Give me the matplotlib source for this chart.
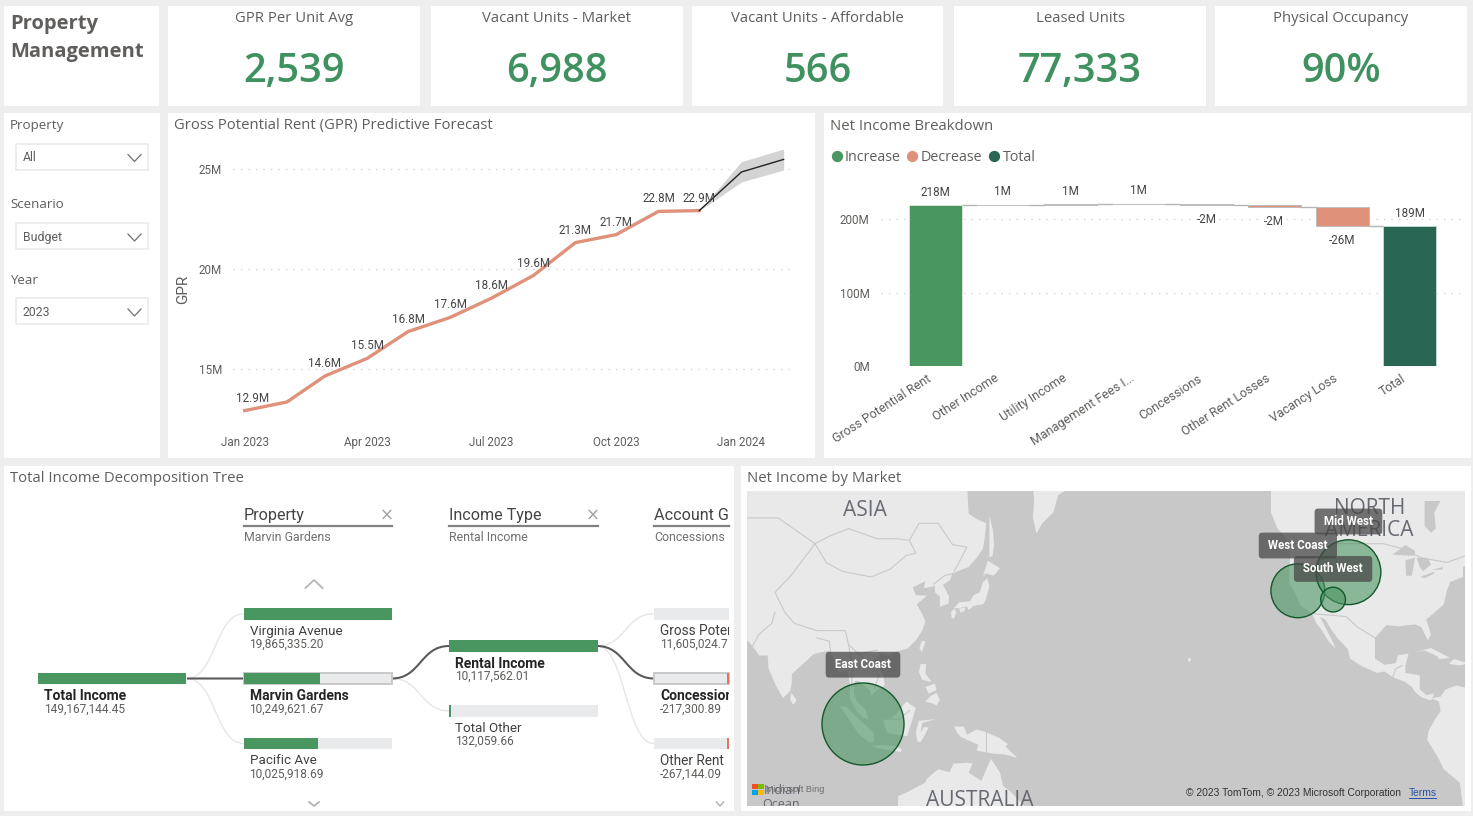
import numpy as np
import pandas as pd
import matplotlib
matplotlib.use('Agg')
import matplotlib.pyplot as plt
import matplotlib.dates as mdates
from matplotlib.patches import Rectangle, PathPatch
from matplotlib.path import Path
from matplotlib.transforms import ScaledTranslation

W, H = 1473, 816

# --- data ---
kpi_titles = ['GPR Per Unit Avg', 'Vacant Units - Market', 'Vacant Units - Affordable', 'Leased Units', 'Physical Occupancy']
kpi_values = ['2,539', '6,988', '566', '77,333', '90%']

slicer_titles = ['Property', 'Scenario', 'Year']
slicer_values = ['All', 'Budget', '2023']

months = pd.date_range('2023-01-01', periods=12, freq='MS')
tick_dates = pd.to_datetime(['2023-01-01', '2023-04-01', '2023-07-01', '2023-10-01', '2024-01-01'])
month_labels = ['Jan 2023', 'Apr 2023', 'Jul 2023', 'Oct 2023', 'Jan 2024']
gpr_actual = [12.92, 13.35, 14.65, 15.53, 16.87, 17.58, 18.53, 19.67, 21.32, 21.72, 22.88, 22.92]
gpr_labels = ['12.9M', '', '14.6M', '15.5M', '16.8M', '17.6M', '18.6M', '19.6M', '21.3M', '21.7M', '22.8M', '22.9M']
forecast_months = pd.to_datetime(['2023-12-01', '2024-01-01', '2024-02-01'])
gpr_forecast = [22.92, 24.85, 25.48]
forecast_upper = [22.92, 25.37, 26.0]
forecast_lower = [22.92, 24.35, 24.95]

wf_names = ['Gross Potential Rent', 'Other Income', 'Utility Income', 'Management Fees I...',
            'Concessions', 'Other Rent Losses', 'Vacancy Loss', 'Total']
wf_deltas = [218.3, 0.6, 0.5, 0.9, -2.1, -1.9, -26.5]
wf_labels = ['218M', '1M', '1M', '1M', '-2M', '-2M', '-26M', '189M']

prop_names = ['Virginia Avenue', 'Marvin Gardens', 'Pacific Ave']
prop_values = [19865335.20, 10249621.67, 10025918.69]
income_names = ['Rental Income', 'Total Other']
income_values = [10117562.01, 132059.66]
account_names = ['Gross Potential Rent', 'Concessions', 'Other Rent']
account_text = ['11,605,024.7', '-217,300.89', '-267,144.09']

market_names = ['East Coast', 'West Coast', 'Mid West', 'South West']
market_lon = [102.5, -121.6, -105.8, -110.6]
market_lat = [0.0, 38.4, 42.8, 36.2]
market_income = [88, 38, 55, 8]

# --- rough coastlines, lon/lat ---
land = [
    [(60, 60), (135, 60), (135.5, 54.8), (138, 53.8), (141, 53), (140.5, 50), (140, 48), (138, 46), (135.5, 44), (132, 43),
     (130.5, 42.5), (129.7, 41), (127.5, 39.8), (129.4, 37), (129.2, 35.2), (126.5, 34.4), (126.5, 37), (125, 38),
     (125, 39.6), (121.5, 39), (122, 40.7), (118, 39.2), (119, 37.3), (122.5, 37.2), (119.3, 35), (121, 32.5), (122, 30.5),
     (121, 28), (119, 25.3), (116.5, 23), (113.5, 22.2), (110.5, 21), (108, 21.6), (105.8, 19), (108.8, 15.5), (109.3, 12),
     (106.7, 10.4), (105, 8.7), (104.8, 10.3), (102.5, 12.2), (100.9, 13.4), (100, 13.3), (99.5, 10), (100.5, 7.2),
     (103.3, 4.5), (104.2, 1.4), (102.5, 2), (100.5, 4), (98.3, 8), (98.5, 12), (97.6, 16.5), (95, 15.9), (94.3, 18.5),
     (91.8, 22.3), (89, 21.8), (87, 21.3), (85, 19.5), (80.3, 15.5), (80.2, 12.5), (79.8, 10.3), (77.5, 8.1), (75.5, 11.5),
     (73, 17), (72.7, 21), (70, 20.9), (68, 23.6), (66.5, 25.2), (60, 25.3)],
    [(155.5, 60), (156, 57), (155.6, 54), (156.7, 51), (158.5, 53), (162, 55), (163.5, 58), (170, 60)],
    [(130.9, 34), (132.5, 35.5), (136, 35.8), (137, 37.3), (139, 38), (140, 40.5), (141.3, 41.4), (142, 39.5), (140.8, 36),
     (140, 35), (137, 34.6), (135.5, 33.5), (135, 34.5), (132.5, 34)],
    [(130, 33), (131, 33.9), (131.7, 33), (131, 31.3), (130.2, 31.3)],
    [(132.5, 33.9), (134.5, 34.2), (134.2, 33.3), (133, 32.8)],
    [(140, 42), (141.5, 45.4), (145.3, 43.7), (143.3, 42), (141, 42.5)],
    [(142, 54.4), (143, 52), (143.5, 49), (143, 46.5), (142, 46), (142, 50)],
    [(121, 25.2), (122, 25), (120.9, 22), (120.1, 23)],
    [(109, 20), (110.8, 20), (110, 18.3), (108.7, 18.7)],
    [(120.5, 18.5), (122.2, 18.4), (122, 15.5), (124, 13), (121, 13.7), (120, 16)],
    [(122, 7), (123.5, 8.6), (125.5, 9.7), (126.5, 7.5), (125.5, 5.8), (124, 6.5)],
    [(122, 11.5), (125, 12.5), (125.5, 10.5), (123, 9.5)],
    [(80, 9.7), (81.8, 7.5), (80.7, 6), (79.8, 7.5)],
    [(95.3, 5.6), (97.5, 5.2), (100.5, 2.2), (104, -1), (106, -3), (105.8, -5.8), (104.5, -5.8), (101, -3), (98.5, 1)],
    [(109, 1.5), (111, 1.8), (113, 3.2), (116, 7), (119, 5), (117.8, 1), (116.3, -3.8), (114, -3.5), (110.2, -2.8), (109, 0)],
    [(105.2, -6.8), (108.5, -6.6), (112.7, -6.9), (114.5, -7.8), (114.4, -8.7), (108, -7.8)],
    [(119.5, -5.5), (119, -2.5), (120, 1), (125, 1.5), (121, 0.3), (120.5, -2.8), (121.5, -1), (123, -1), (121.5, -4), (120.5, -5.6)],
    [(131, -0.8), (134, -0.8), (135, -3.3), (138, -1.7), (141, -2.6), (145, -4.3), (147.8, -6.3), (147, -7), (150.7, -10.5),
     (147, -9.5), (143, -9.2), (138, -8.3), (138.5, -6.5), (133, -4), (132, -2.8)],
    [(113.5, -22), (117, -20.5), (122, -18), (122.5, -16.8), (126, -14), (129.5, -14.9), (130.8, -12.3), (135, -12),
     (136.8, -12.2), (135.5, -15), (139.5, -17.5), (141.5, -13), (142.5, -10.8), (145.3, -15), (146.3, -19), (149, -21),
     (153, -25), (153, -40), (113, -40)],
    [(-130, 60), (-130, 55), (-128, 52), (-125, 50), (-123, 49), (-124.7, 48.4), (-124, 46), (-124.4, 43), (-124.3, 40.4),
     (-122.5, 37.8), (-120.6, 34.6), (-117.2, 32.6), (-115.8, 30), (-114, 28), (-112, 25), (-109.9, 23), (-110.5, 24.5),
     (-112.5, 28), (-114.7, 31.7), (-113, 31), (-110.9, 27.9), (-109, 25.7), (-106, 22.8), (-105.3, 20), (-102, 18),
     (-97, 15.8), (-94.5, 16.2), (-92, 14.5), (-88, 13), (-86, 11.5), (-85, 10), (-83, 8.3), (-80, 7.3), (-79, 9.5),
     (-81.5, 9), (-83.5, 10.8), (-83.5, 15), (-88, 15.8), (-88, 18), (-87, 21.5), (-90.3, 21), (-91, 18.7), (-94.5, 18.2),
     (-97.5, 20), (-97.5, 26), (-94, 29.5), (-90, 29.2), (-85, 29.7), (-83, 29), (-81, 25.2), (-80, 27), (-81.5, 31),
     (-76, 35), (-75, 38.5), (-74, 40.5), (-70, 41.7), (-70, 44), (-66, 45), (-60, 46), (-60, 60)],
    [(-80, 8), (-77.5, 7), (-77, 4), (-79, 1), (-80.7, -2), (-81.2, -5), (-78, -10), (-76, -14), (-71, -18), (-70, -25),
     (-60, -30), (-60, 10), (-68, 11), (-72, 12), (-75.5, 10.7), (-77, 8.5)],
    [(-85, 21.9), (-80, 23.1), (-75, 20.7), (-74.2, 20.2), (-77.5, 19.9), (-78, 20.7), (-82, 22.4)],
    [(-74.4, 18.5), (-72.8, 19.9), (-68.4, 18.6), (-71, 18)],
    [(-156, 20), (-155.2, 20.2), (-155, 19.5), (-155.8, 19)],
]
water = [
    [(-92, 46.7), (-88, 48.7), (-85, 47.5), (-85, 46.5), (-88, 46.5)],
    [(-87.8, 42), (-88, 45.5), (-85, 46), (-86, 42)],
    [(-84.5, 46), (-81, 46), (-80, 44.5), (-82.5, 43), (-83.5, 44)],
    [(-83.4, 41.7), (-79, 42.9), (-79, 42.5), (-82, 41.4)],
    [(-79.7, 43.3), (-76.3, 44), (-76.3, 43.4)],
    [(-82, 57), (-82, 52.5), (-80, 51.2), (-78.5, 52), (-79, 55), (-77, 57)],
]
borders = [
    [(131, 43), (135, 48.3), (130.5, 48.8), (126, 53), (120, 53), (117, 49.7), (113, 50), (107, 50), (98, 52), (92, 50.5),
     (87.5, 49), (80, 42), (75, 38), (78, 33), (81, 30), (88, 28), (97, 28), (98, 24), (101, 21.5), (107, 22.5)],
    [(87.5, 49), (91, 45), (96, 43), (105, 41.7), (111, 43.5), (116, 46.5), (119, 47), (117, 49.7)],
    [(66, 54), (76, 54), (87.5, 49)],
    [(75, 33), (74, 30), (70, 27), (68, 23.7)],
    [(98, 24), (99, 18), (99, 11)],
    [(101, 21.5), (105, 18), (107.5, 15), (106, 11)],
    [(88, 26), (92, 25), (92.5, 21)],
    [(124.5, 40), (128, 42), (130.5, 42.5)],
    [(-123, 49), (-95, 49), (-89, 48), (-83, 46), (-75, 45), (-67, 47)],
    [(-117, 32.6), (-106.5, 31.8), (-103, 29), (-97.5, 26)],
    [(-92, 14.5), (-91, 17), (-89, 18)],
    [(141, -2.6), (141, -9)],
    [(109.5, 1.5), (114, 1.5), (117, 4.2)],
]

# --- fonts and colours ---
plt.rcParams['font.family'] = ['Roboto', 'DejaVu Sans']
HEAD = ['Open Sans', 'DejaVu Sans']
GREY = '#605E5C'
LIGHT_TRACK = '#E9EAEC'
GREEN = '#4A9660'
SALMON = '#DF917A'
DARK_GREEN = '#2A6654'

fig = plt.figure(figsize=(W / 100, H / 100), dpi=100, facecolor='#EEEEEE')


def add_ax(x0, y0, x1, y1, **kw):
    return fig.add_axes([x0 / W, 1 - y1 / H, (x1 - x0) / W, (y1 - y0) / H], **kw)


# page layer in pixel coordinates
page = add_ax(0, 0, W, H, zorder=0)
page.set_xlim(0, W)
page.set_ylim(H, 0)
page.axis('off')


def box(x0, y0, x1, y1, fc='white', ec='none', lw=0, **kw):
    page.add_patch(Rectangle((x0, y0), x1 - x0, y1 - y0, fc=fc, ec=ec, lw=lw, **kw))


def chevron(x, y, w, h, color='#8A8A8A', lw=1.0):
    page.plot([x - w / 2, x, x + w / 2], [y, y + h, y], color=color, lw=lw)


# panels
panels = [(4, 6, 159, 106), (168, 6, 420, 106), (431, 6, 683, 106), (692, 6, 943, 106), (954, 6, 1206, 106),
          (1215, 6, 1467, 106), (4, 113, 160, 458), (168, 113, 815, 458), (824, 113, 1471, 458),
          (4, 466, 734, 811), (741, 466, 1471, 811)]
for p in panels:
    box(*p)

# title card
page.text(10, 24, 'Property', family=HEAD, weight='bold', size=14.5, color=GREY, va='center')
page.text(10, 52, 'Management', family=HEAD, weight='bold', size=14.5, color=GREY, va='center')

# KPI cards
for p, t, v in zip(panels[1:6], kpi_titles, kpi_values):
    cx = (p[0] + p[2]) / 2
    page.text(cx, 19, t, family=HEAD, size=10.7, color=GREY, ha='center', va='center')
    page.text(cx, 72, v, family=HEAD, weight='semibold', size=28.6, color='#3F9160', ha='center', va='center')

# slicers
for t, v, ly, by in zip(slicer_titles, slicer_values, [125, 205, 280], [143.5, 223, 298]):
    page.text(10, ly, t, family=HEAD, size=9.6, color=GREY, va='center')
    box(15.5, by, 147.5, by + 26, ec='#EAEAEA', lw=1.2)
    page.text(22.5, by + 14, v, size=8.8, color=GREY, va='center')
    chevron(134.5, by + 11, 13, 7, color='#707070', lw=0.9)

# panel titles
titles = [(174, 126, 'Gross Potential Rent (GPR) Predictive Forecast'), (830, 126, 'Net Income Breakdown'),
          (10, 479, 'Total Income Decomposition Tree'), (747, 479, 'Net Income by Market')]
for x, y, t in titles:
    page.text(x, y, t, family=HEAD, size=10.7, color=GREY, va='center')

# --- line chart ---
ax = add_ax(233, 150, 796, 425, zorder=2)
ax.patch.set_alpha(0)
day0 = mdates.date2num(months[0])
ax.set_xlim(day0 + (233 - 244.7) / 1.361, day0 + (796 - 244.7) / 1.361)
ax.set_ylim(25 - (425 - 169) / 20, 25 - (150 - 169) / 20)
ax.fill_between(forecast_months, forecast_lower, forecast_upper, color='#D4D4D4', lw=0, zorder=2)
ax.plot(months, gpr_actual, color=SALMON, lw=2.4, solid_joinstyle='miter', zorder=3)
ax.plot(forecast_months, gpr_forecast, color='#222222', lw=1, zorder=4)
for i, (m, v, t) in enumerate(zip(months, gpr_actual, gpr_labels)):
    if t:
        dx = 6 if i == 0 else 0
        ax.annotate(t, (m, v), xytext=(dx, 9.0), textcoords='offset points', ha='center', va='center',
                    size=8.4, color='#444444', zorder=5)
ax.set_yticks([15, 20, 25], ['15M', '20M', '25M'])
ax.set_xticks(tick_dates, month_labels)
ax.tick_params(length=0, labelsize=8.4, labelcolor=GREY)
ax.tick_params(axis='y', pad=8)
ax.tick_params(axis='x', pad=8)
ax.grid(axis='y', color='#CFCFCF', lw=0.9, ls=(0, (1, 5)))
ax.set_axisbelow(True)
for s in ax.spines.values():
    s.set_visible(False)
page.text(183, 289, 'GPR', size=11, color=GREY, rotation=90, ha='center', va='center')

# --- waterfall ---
wf = add_ax(880.8, 175, 1465.5, 366.3, zorder=2)
wf.patch.set_alpha(0)
wf.set_xlim(-0.8, 7.82)
wf.set_ylim(0, 191.3 / 0.738)
ends = np.cumsum(wf_deltas)
starts = ends - np.array(wf_deltas)
for i, (s, e) in enumerate(zip(starts, ends)):
    c = GREEN if e > s else SALMON
    wf.bar(i, abs(e - s), bottom=min(s, e), width=0.78, color=c, edgecolor='#BDBDBD' if i else '#D5E5D9', lw=0.7, zorder=3)
    wf.plot([i + 0.39, i + 0.61], [e, e], color='#B5B5B5', lw=1, zorder=2)
total = ends[-1]
wf.bar(7, total, width=0.78, color=DARK_GREEN, edgecolor='#C5D5CF', lw=0.7, zorder=3)
tops = list(zip(starts, ends)) + [(0, total)]
for i, ((s, e), t) in enumerate(zip(tops, wf_labels)):
    off = 9.4 if e >= s else -10.4
    wf.annotate(t, (i, e), xytext=(0, off), textcoords='offset points', ha='center', va='center', size=8.4,
                color='#444444', zorder=5)
wf.set_yticks([0, 100, 200], ['0M', '100M', '200M'])
wf.set_xticks(range(len(wf_names)))
wf.set_xticklabels(wf_names, rotation=33, ha='right', va='top', rotation_mode='anchor')
wf.tick_params(length=0, labelsize=8.4, labelcolor=GREY)
wf.tick_params(axis='y', pad=8)
wf.tick_params(axis='x', pad=4, labelsize=9)
label_shift = ScaledTranslation(-9 / 100, 0, fig.dpi_scale_trans)
for lab in wf.get_xticklabels():
    lab.set_transform(lab.get_transform() + label_shift)
wf.grid(axis='y', color='#CFCFCF', lw=0.9, ls=(0, (1, 5)))
wf.set_axisbelow(True)
for s in wf.spines.values():
    s.set_visible(False)

# legend
for cx, tx, c, t in [(836.6, 845, GREEN, 'Increase'), (912, 921, SALMON, 'Decrease'), (994, 1003, DARK_GREEN, 'Total')]:
    page.scatter([cx], [155.7], s=66, color=c, lw=0)
    page.text(tx, 157.5, t, family=HEAD, size=10.3, color=GREY, va='center')

# --- decomposition tree ---
tree_clip = Rectangle((4, 466), 725, 345, transform=page.transData)


def ttext(x, y, t, size=9.2, weight='normal', color='#505050'):
    txt = page.text(x, y + 0.7, t, size=size, weight=weight, color=color, va='center')
    txt.set_clip_path(tree_clip)
    txt.set_clip_on(True)


def tbar(x, y, frac, selected=False, w=148.5, color=GREEN):
    box(x, y, x + w, y + 11.7, fc=LIGHT_TRACK, ec='#C9C9C9' if selected else 'none', lw=1.4 if selected else 0)
    if frac > 0:
        box(x, y, x + w * frac, y + 11.7, fc=color)


def link(x0, y0, x1, y1, dark=False):
    mid = (x0 + x1) / 2
    path = Path([(x0, y0), (mid, y0), (mid, y1), (x1, y1)], [Path.MOVETO, Path.CURVE4, Path.CURVE4, Path.CURVE4])
    page.add_patch(PathPatch(path, fc='none', ec='#5A5A5A' if dark else '#E6E6E6', lw=1.5 if dark else 1, zorder=1))


headers = [(243.5, 'Property', 'Marvin Gardens', True), (449, 'Income Type', 'Rental Income', True), (654, 'Account Group', 'Concessions', False)]
for x, h, sel, has_x in headers:
    ttext(x, 515, h, size=11.6, color='#444444')
    x1 = x + 148.5 if has_x else 729
    page.plot([x, x1], [526.3, 526.3], color='#808080', lw=1.6)
    ttext(x, 537, sel, size=8.9, color='#707070')
    if has_x:
        page.text(x + 143.5, 515.5, '×', size=12, color='#A0A0A0', ha='center', va='center', family='DejaVu Sans')

chevron(314, 588, 17, -8, color='#B5B5B5', lw=1.3)
chevron(314, 802, 10, 4, color='#B5B5B5', lw=1.3)
chevron(720, 802, 7, 4, color='#B5B5B5', lw=1.1)

prop_y = [608, 672.5, 737.7]
inc_y = [640, 705]
acc_y = [608, 672.5, 737.7]

# links first so the bars sit on them
link(187, 678.5, 243.5, 613.8)
link(187, 678.5, 243.5, 743.5)
link(392, 678.5, 449, 710.8)
link(597, 646, 654, 613.8)
link(597, 646, 654, 743.5)
link(187, 678.5, 243.5, 678.5, dark=True)
link(392, 678.5, 449, 646, dark=True)
link(597, 646, 654, 678.5, dark=True)

tbar(37.8, 672.5, 1.0)
ttext(44, 695.3, 'Total Income', size=10, weight='bold', color='#252423')
ttext(44, 708.7, '149,167,144.45', size=8.6, color='#605E5C')

for i, (n, v, y) in enumerate(zip(prop_names, prop_values, prop_y)):
    tbar(243.5, y, v / max(prop_values), selected=i == 1)
    ttext(249.5, y + 22.4, n, size=10 if i == 1 else 9.6, weight='bold' if i == 1 else 'normal',
          color='#252423' if i == 1 else '#404040')
    ttext(249.5, y + 35.8, f'{v:,.2f}', size=8.6, color='#605E5C')

for i, (n, v, y) in enumerate(zip(income_names, income_values, inc_y)):
    tbar(449, y, v / max(income_values), selected=False)
    ttext(455, y + 23.3, n, size=10 if i == 0 else 9.6, weight='bold' if i == 0 else 'normal',
          color='#252423' if i == 0 else '#404040')
    ttext(455, y + 35.7, f'{v:,.2f}', size=8.6, color='#605E5C')

for i, (n, v, y) in enumerate(zip(account_names, account_text, acc_y)):
    tbar(654, y, 0, selected=i == 1, w=75)
    if i:
        box(727, y, 729, y + 11.7, fc='#E8735A')
    ttext(660, y + 22.4, n, size=10 if i == 1 else 9.8, weight='bold' if i == 1 else 'normal',
          color='#252423' if i == 1 else '#404040')
    ttext(660, y + 35.8, v, size=8.6, color='#605E5C')


# --- map ---
def merc(lat):
    return np.log(np.tan(np.pi / 4 + np.radians(lat) / 2))


def inv_merc(m):
    return np.degrees(2 * np.arctan(np.exp(m)) - np.pi / 2)


mp = add_ax(747, 491, 1465, 806, zorder=3)
mp.set_facecolor('#C8C8C8')
mp.set_yscale('function', functions=(merc, inv_merc))
mp.set_xlim((747 - 535) / 3.2, (1465 - 535) / 3.2)
mp.set_ylim(inv_merc((724 - 806) / 183.3), inv_merc((724 - 491) / 183.3))
mp.set_xticks([])
mp.set_yticks([])
mp.minorticks_off()
for s in mp.spines.values():
    s.set_visible(False)


def unwrap(poly):
    a = np.array(poly, dtype=float)
    return a[:, 0] % 360, a[:, 1]


for poly in land:
    mp.fill(*unwrap(poly), color='#E9E9E9', lw=0, zorder=1)
for poly in water:
    mp.fill(*unwrap(poly), color='#C8C8C8', lw=0, zorder=1.1)
for poly in borders:
    mp.plot(*unwrap(poly), color='#C9C9C9', lw=0.8, zorder=1.2)

radius = 4.37 * np.sqrt(market_income)   # px
lon_wrapped = np.array(market_lon) % 360
mp.scatter(lon_wrapped, market_lat, s=(2 * radius * 0.72) ** 2, facecolors=(0.29, 0.59, 0.38, 0.6),
           edgecolors='#14582F', lw=1, zorder=3)

for t, x, y, fs in [('ASIA', 864.8, 511, 15), ('NORTH', 1369.4, 509, 15), ('AMERICA', 1369.4, 530, 15),
                    ('AUSTRALIA', 979.4, 800, 15), ('Indian', 782, 791, 9), ('Ocean', 781, 805, 9)]:
    mp.text(x, y, t, transform=page.transData, size=fs, color='#5A5C66', ha='center', va='center', family=HEAD,
            alpha=0.9, zorder=2, clip_on=True)

for n, lon, lat, r in zip(market_names, lon_wrapped, market_lat, radius):
    mp.annotate(f' {n} ', (lon, lat), xytext=(0, (r + 18.3) * 0.72), textcoords='offset points', ha='center', va='center',
                size=8.4, weight='bold', color='white', zorder=5,
                bbox=dict(boxstyle='round,pad=0.55,rounding_size=0.3', fc='#484848', ec='none', alpha=0.75))

# attribution
for (x, y), c in zip([(752, 783.5), (758, 783.5), (752, 789.5), (758, 789.5)], ['#F25022', '#7FBA00', '#00A4EF', '#FFB900']):
    mp.add_patch(Rectangle((x, y), 5.6, 5.6, fc=c, ec='none', transform=page.transData, zorder=4))
mp.text(766, 789, 'Microsoft Bing', transform=page.transData, family='Liberation Sans', size=6.6, color='#707070',
        va='center', zorder=4)
mp.text(1186, 793, '© 2023 TomTom, © 2023 Microsoft Corporation', transform=page.transData, family='Liberation Sans',
        size=7.4, color='#333333', va='center', zorder=4)
mp.text(1409, 793, 'Terms', transform=page.transData, family='Liberation Sans', size=7.4, color='#2A4FA8', va='center', zorder=4)
mp.plot([1409, 1436], [798, 798], transform=page.transData, color='#2A4FA8', lw=0.7, zorder=4)

fig.savefig('out.png', dpi=100, facecolor=fig.get_facecolor())
